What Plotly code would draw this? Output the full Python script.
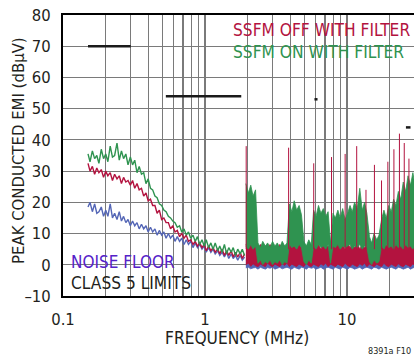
import plotly.graph_objects as go

# ---------------- data ----------------
lf_freq = [0.150, 0.155, 0.161, 0.167, 0.173, 0.179, 0.186, 0.193, 0.200, 0.207,
           0.215, 0.223, 0.231, 0.240, 0.249, 0.258, 0.267, 0.277, 0.287, 0.298,
           0.309, 0.320, 0.332, 0.344, 0.357, 0.370, 0.384, 0.398, 0.413, 0.428,
           0.444, 0.460, 0.477, 0.495, 0.513, 0.532, 0.552, 0.572, 0.593, 0.615,
           0.638, 0.662, 0.686, 0.712, 0.738, 0.765, 0.793, 0.823, 0.853, 0.885,
           0.918, 0.952, 0.987, 1.02, 1.06, 1.10, 1.14, 1.18, 1.23, 1.27,
           1.32, 1.37, 1.42, 1.47, 1.53, 1.58, 1.64, 1.70, 1.77, 1.83, 1.90]

green_lf = [35.5, 33, 36.5, 34, 35, 32.5, 37, 34, 35.5, 33,
            38, 34.5, 35, 39, 33.5, 36.5, 34, 35.5, 32, 34.5,
            32, 33.5, 29.5, 31.5, 29, 29.5, 26, 27.5, 24.5, 24,
            22, 21.5, 19.5, 19, 17.5, 17, 15.5, 15, 14, 13.5,
            12, 12.5, 10.5, 11.5, 9.5, 10.5, 8.5, 9.5, 7.5, 9,
            6.5, 8, 6, 8, 5.5, 7, 5, 7, 4.5, 6,
            4, 6.5, 3.5, 5.5, 4, 5.5, 3, 5, 3.5, 5, 3]

red_lf = [32.5, 30, 31.5, 29, 31, 29.5, 30.5, 28, 30, 28.5,
          29.5, 27, 29, 27.5, 28.5, 26, 28, 26.5, 27, 25.5,
          27, 24.5, 26, 24, 24.5, 22, 23, 20.5, 21, 19,
          19, 16.5, 17.5, 14.5, 15, 13.5, 13.5, 11.5, 12.5, 10.5,
          11, 9, 10, 8.5, 9.5, 7.5, 8, 6.5, 7.5, 6,
          7, 5.5, 6.5, 4.5, 6, 4.5, 5.5, 4, 5, 3.5,
          5, 3, 4.5, 3, 4.5, 2.5, 4, 2.5, 4, 2, 3.5]

blue_lf = [18.5, 20, 17, 19.5, 16.5, 17, 18.5, 15.5, 17.5, 15.5,
           19.5, 15, 16.5, 14.5, 17, 14, 15.5, 13.5, 14.5, 12.5,
           14, 12.5, 13.5, 11.5, 13, 11.5, 12.5, 10.5, 12, 10.5,
           11.5, 9.5, 11, 9.5, 10.5, 8.5, 10, 8.5, 9.5, 7.5,
           9, 7.5, 8.5, 6.5, 8, 6.5, 7.5, 5.5, 7, 5.5,
           6.5, 5, 6, 4, 5.5, 4, 5, 3.5, 4.5, 3,
           4, 2.5, 4, 2, 3.5, 2, 3, 1.5, 3, 1.5, 2.5]

hf_freq = [1.94, 2.02, 2.10, 2.18, 2.27, 2.36, 2.46, 2.55, 2.66, 2.76,
           2.87, 2.99, 3.11, 3.23, 3.36, 3.50, 3.64, 3.78, 3.93, 4.09,
           4.25, 4.42, 4.60, 4.78, 4.97, 5.17, 5.38, 5.60, 5.82, 6.05,
           6.30, 6.55, 6.81, 7.08, 7.36, 7.66, 7.97, 8.28, 8.62, 8.96,
           9.32, 9.69, 10.1, 10.5, 10.9, 11.3, 11.8, 12.3, 12.8, 13.3,
           13.8, 14.4, 14.9, 15.5, 16.2, 16.8, 17.5, 18.2, 18.9, 19.7,
           20.5, 21.3, 22.1, 23.0, 23.9, 24.9, 25.9, 26.9, 28.0, 29.1, 30.0]

green_hf_hi = [26, 23, 25.5, 22, 24,
               7, 5.5, 7.5, 6, 7, 5.5, 7.5, 6, 7, 5.5, 7.5, 6, 7,
               19.5, 17, 20.5, 17.5, 19, 16,
               7.5, 6, 8, 6.5,
               17.5, 15.5, 19, 16.5, 18, 15.5, 17,
               7,
               16.5, 15, 17.5, 15, 18, 14.5, 16.5,
               19, 17, 20, 18, 24.5, 17.5, 20, 16.5,
               9, 7, 10, 8, 9.5,
               14.5, 17.5, 15, 19, 17, 21, 19, 23.5, 21, 26.5, 23.5, 28.5, 25.5, 29.5, 26]

green_hf_lo = [6, 5, 6.5, 5, 6,
               0.5, 1.5, 0, 1, 0.5, 1.5, 0, 1, 0.5, 1.5, 0, 1, 0.5,
               6.5, 5.5, 6, 5, 6.5, 5.5,
               1, 0, 1.5, 0.5,
               6, 5, 6.5, 5.5, 6, 5, 6.5,
               0.5,
               6, 5.5, 6.5, 5, 6, 5.5, 6,
               6.5, 5, 6, 5.5, 6.5, 5, 6, 5.5,
               1, 0, 1.5, 0.5, 1,
               6, 5, 6.5, 5.5, 6, 5, 6.5, 5.5, 6, 5, 6.5, 5.5, 6, 5, 6.5]

red_hf_hi = [6.5, 5, 7, 5.5, 6, 5, 6.5, 5.5, 6, 5,
             6.5, 5.5, 6, 5, 6.5, 5.5, 6, 5, 7, 5.5,
             6.5, 5, 7, 5.5, 6, 5, 6.5, 5.5, 7, 5.5,
             6.5, 5, 7, 5.5, 6, 5, 6.5, 5.5, 7, 5.5,
             6.5, 5, 7, 5.5, 6.5, 5.5, 7, 5, 6.5, 5.5,
             6, 5, 6.5, 5.5, 6, 5, 7, 5.5, 6.5, 5.5,
             7, 5.5, 7.5, 5.5, 7, 6, 7.5, 5.5, 7, 6, 7]

red_hf_lo = [0, 0.5, -0.5, 0.3, -0.3, -0.6, 0.2, -0.2, -0.6, 0.5,
             -0.2, -0.6, 0.2, -0.3, -0.6, 0.3, -0.2, 0.5, -0.6, 0.2,
             -0.3, -0.6, 0.2, -0.2, -0.6, 0.5, -0.3, -0.6, 0.2, -0.2,
             -0.6, 0.3, -0.2, 0.5, -0.6, 0.2, -0.3, -0.6, 0.2, -0.2,
             -0.6, 0.5, -0.3, -0.6, 0.2, -0.2, -0.6, 0.3, -0.2, 0.5,
             -0.6, 0.2, -0.3, -0.6, 0.2, -0.2, -0.6, 0.5, -0.3, -0.6,
             0.2, -0.2, -0.6, 0.3, -0.3, -0.6, 0.2, -0.2, -0.6, 0.3, -0.2]

blue_hf_hi = [1.5, 1, 1.5, 1, 1.5, 1, 1.5, 1, 1.5, 1,
              1.5, 1, 1.5, 1, 1.5, 1, 1.5, 1, 1.5, 1,
              1.5, 1, 1.5, 1, 1.5, 1, 1.5, 1, 1.5, 1,
              1.5, 1, 1.5, 1, 1.5, 1, 1.5, 1, 1.5, 1,
              1.5, 1, 1.5, 1, 1.5, 1, 1.5, 1, 1.5, 1,
              1.5, 1, 1.5, 1, 1.5, 1, 1.5, 1, 1.5, 1,
              1.5, 1, 1.5, 1, 1.5, 1, 1.5, 1, 1.5, 1, 1.5]

blue_hf_lo = [-1, -0.8, -1.3, -1, -0.9, -1.4, -0.8, -1.1, -1.4, -0.9,
              -1.1, -0.8, -1.4, -1, -0.8, -1.3, -1, -0.8, -1.1, -1.4,
              -0.8, -1.1, -1.4, -0.8, -1, -1.4, -0.8, -1.1, -0.9, -1.4,
              -1, -0.8, -1.4, -1, -0.8, -1.1, -1.4, -0.8, -1, -1.4,
              -0.8, -1.1, -1.4, -0.8, -1, -1.4, -1, -0.8, -1.4, -1,
              -0.8, -1.1, -1.4, -0.8, -1, -1.4, -0.8, -1.1, -1.4, -1,
              -0.8, -1.1, -1.4, -0.8, -1, -1.4, -1, -0.8, -1.4, -1, -0.8]

spike_freq = [1.95, 3.88, 5.83, 7.78, 9.7, 11.7, 13.6, 15.6, 17.5, 19.4, 21.4, 23.4, 25.3, 27.3]
spike_top = [38, 37.5, 32.5, 34.5, 35.5, 38, 24, 32, 27, 33, 37, 42, 39, 34]
spike_base = 5

limit_start = [0.15, 0.53, 5.9, 26]
limit_stop = [0.30, 1.8, 6.2, 28]
limit_level = [70, 54, 53, 44]

y_ticks = [-10, 0, 10, 20, 30, 40, 50, 60, 70, 80]
y_ticktext = ["\u201310", "0", "10", "20", "30", "40", "50", "60", "70", "80"]
x_grid = [0.1, 0.2, 0.3, 0.4, 0.5, 0.6, 0.7, 0.8, 0.9,
          1, 2, 3, 4, 5, 6, 7, 8, 9, 10, 20]
x_labels = {0.1: "0.1", 1: "1", 10: "10"}

# ---------------- styling ----------------
FONT = "DejaVu Sans Condensed, Liberation Sans Narrow, Roboto, sans-serif"
RED = "#b3133f"
GREEN = "#2f9350"
BLUE = "#5466b6"
GRID = "#7a7a7a"
INK = "#231f20"

W, H = 414, 357
ML, MR, MT, MB = 63, 0, 15, 61
PW, PH = W - ML - MR, H - MT - MB


def px(xp):
    return (xp - ML) / PW


def py(yp):
    return (H - MB - yp) / PH


def band(freq, hi, lo):
    return list(freq) + list(freq)[::-1], list(hi) + list(lo)[::-1]


fig = go.Figure()

# noise floor
bx, by = band(hf_freq, blue_hf_hi, blue_hf_lo)
fig.add_trace(go.Scatter(x=bx, y=by, fill="toself", fillcolor=BLUE, mode="lines",
                         line=dict(color=BLUE, width=0.8), hoverinfo="skip"))
fig.add_trace(go.Scatter(x=lf_freq, y=blue_lf, mode="lines",
                         line=dict(color=BLUE, width=1.4)))
# SSFM off
fig.add_trace(go.Scatter(x=lf_freq, y=red_lf, mode="lines",
                         line=dict(color=RED, width=1.4)))
# SSFM on
fig.add_trace(go.Scatter(x=lf_freq, y=green_lf, mode="lines",
                         line=dict(color=GREEN, width=1.4)))
rx, ry = band(hf_freq, red_hf_hi, red_hf_lo)
fig.add_trace(go.Scatter(x=rx, y=ry, fill="toself", fillcolor=RED, mode="lines",
                         line=dict(color=RED, width=0.8), hoverinfo="skip"))
gx, gy = band(hf_freq, green_hf_hi, green_hf_lo)
fig.add_trace(go.Scatter(x=gx, y=gy, fill="toself", fillcolor=GREEN, mode="lines",
                         line=dict(color=GREEN, width=0.8), hoverinfo="skip"))

# red harmonic spikes
sx, sy = [], []
for f, t in zip(spike_freq, spike_top):
    sx += [f, f, None]
    sy += [spike_base, t, None]
fig.add_trace(go.Scatter(x=sx, y=sy, mode="lines", line=dict(color=RED, width=1)))

# class 5 limits
lx, ly = [], []
for a, b, v in zip(limit_start, limit_stop, limit_level):
    lx += [a, b, None]
    ly += [v, v, None]
fig.add_trace(go.Scatter(x=lx, y=ly, mode="lines", line=dict(color="#1a1a1a", width=2.5)))

shapes = [
    dict(type="rect", xref="paper", yref="paper", x0=px(228), x1=1.0, y0=py(63), y1=py(17),
         fillcolor="white", line=dict(width=0), layer="between"),
    dict(type="rect", xref="paper", yref="paper", x0=px(64), x1=px(175), y0=py(273), y1=py(251),
         fillcolor="white", line=dict(width=0), layer="between"),
    dict(type="rect", xref="paper", yref="paper", x0=px(64), x1=px(194), y0=py(295), y1=py(273),
         fillcolor="white", line=dict(width=0), layer="between"),
]

ann = [
    dict(text="SSFM OFF WITH FILTER", x=px(232), y=py(30), xanchor="left", yanchor="middle",
         font=dict(color=RED, size=17.2)),
    dict(text="SSFM ON WITH FILTER", x=px(232), y=py(52), xanchor="left", yanchor="middle",
         font=dict(color=GREEN, size=17.2)),
    dict(text="NOISE FLOOR", x=px(70), y=py(262), xanchor="left", yanchor="middle",
         font=dict(color="#5522c8", size=17)),
    dict(text="CLASS 5 LIMITS", x=px(70), y=py(283), xanchor="left", yanchor="middle",
         font=dict(color=INK, size=17.2)),
    dict(text="PEAK CONDUCTED EMI (dB\u03bcV)", x=px(18), y=py(151), xanchor="center",
         yanchor="middle", textangle=-90, font=dict(color=INK, size=16.6)),
    dict(text="FREQUENCY (MHz)", x=px(237), y=py(338), xanchor="center", yanchor="middle",
         font=dict(color=INK, size=17.2)),
    dict(text="8391a F10", x=px(412), y=py(351), xanchor="right", yanchor="middle",
         font=dict(color=INK, size=9)),
]
for a in ann:
    a.update(xref="paper", yref="paper", showarrow=False, borderpad=0)

fig.update_layout(
    width=W, height=H, margin=dict(l=ML, r=MR, t=MT, b=MB, pad=0),
    paper_bgcolor="white", plot_bgcolor="white", showlegend=False,
    font=dict(family=FONT, color=INK, size=16),
    shapes=shapes, annotations=ann,
    xaxis=dict(type="log", range=[-1, 1.4718], tickvals=x_grid,
               ticktext=[x_labels.get(v, "") for v in x_grid], automargin=False,
               showgrid=True, gridcolor=GRID, gridwidth=1.2, zeroline=False,
               showline=True, linecolor="black", linewidth=2, mirror=True,
               ticks="", ticklabelstandoff=7, ticklabeloverflow="allow",
               tickfont=dict(size=16.5, color=INK)),
    yaxis=dict(range=[-10, 80], tickvals=y_ticks, ticktext=y_ticktext, automargin=False,
               showgrid=True, gridcolor=GRID, gridwidth=1.2, zeroline=False,
               showline=True, linecolor="black", linewidth=2,
               ticks="", ticklabelstandoff=7, ticklabeloverflow="allow",
               tickfont=dict(size=16.5, color=INK)),
)

# remove the default 8 px page margin so the figure sits at the window origin
fig.write_html("out.html",
               config={"displayModeBar": False, "staticPlot": True},
               post_script="document.body.style.margin='0';document.body.style.padding='0';")
